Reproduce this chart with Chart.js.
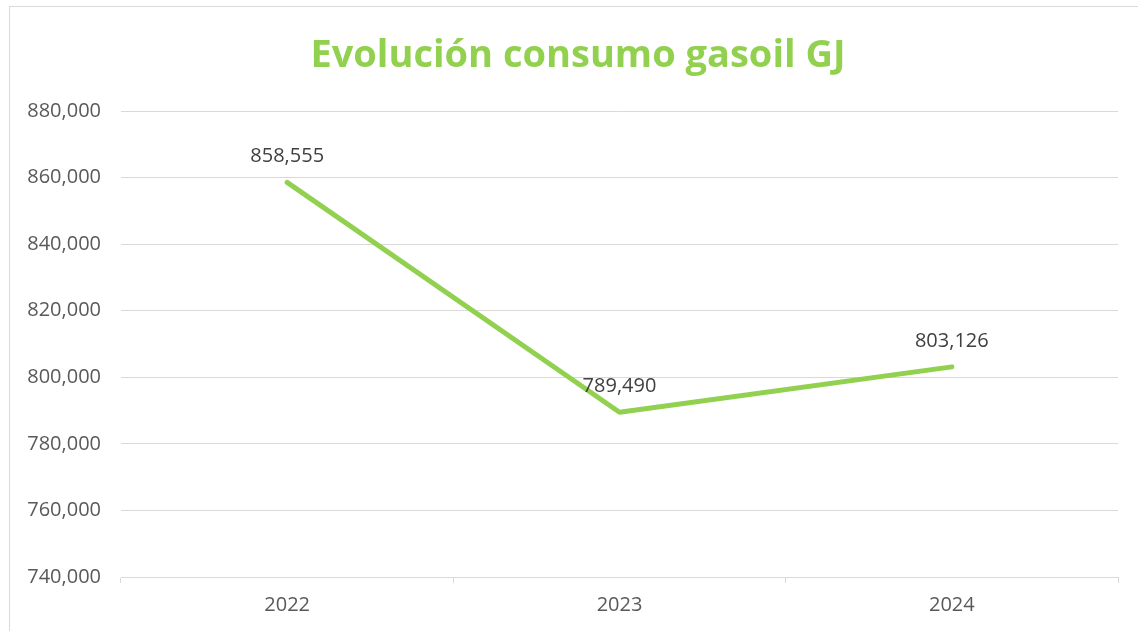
<!DOCTYPE html>
<html>
<head>
<meta charset="utf-8">
<script src="https://cdn.jsdelivr.net/npm/chart.js@4.4.1/dist/chart.umd.min.js"></script>
<style>
  html, body { margin: 0; padding: 0; background: #fff; overflow: hidden; }
  #wrap { position: relative; width: 1138px; height: 631px; }
  #frame { position: absolute; left: 9px; top: 6px; width: 1300px; height: 800px; border: 1px solid #d9d9d9; }
  #chart { position: absolute; left: 0; top: 0; }
</style>
</head>
<body>
<div id="wrap">
  <div id="frame"></div>
  <canvas id="chart" width="1138" height="631"></canvas>
</div>
<script>
// chart values
const years = ["2022", "2023", "2024"];
const consumo = [858555, 789490, 803126];
const yMin = 740000;
const yMax = 880000;
const yStep = 20000;
const titleText = "Evolución consumo gasoil GJ";

const green = "#92D050";
const fontName = "'Open Sans', 'Liberation Sans', sans-serif";

function fmt(v) {
  return v.toLocaleString("en-US");
}

// title + the value above each point
const valueLabels = {
  id: "valueLabels",
  afterDatasetsDraw(chart) {
    const ctx = chart.ctx;
    const meta = chart.getDatasetMeta(0);
    ctx.save();
    ctx.font = "bold 38px " + fontName;
    ctx.fillStyle = green;
    ctx.textAlign = "center";
    ctx.textBaseline = "middle";
    ctx.fillText(titleText, 578, 56);

    ctx.font = "20px " + fontName;
    ctx.fillStyle = "#404040";
    ctx.textBaseline = "bottom";
    meta.data.forEach(function (pt, i) {
      ctx.fillText(fmt(consumo[i]), pt.x, pt.y - 16);
    });
    ctx.restore();
  }
};

new Chart(document.getElementById("chart"), {
  type: "line",
  data: {
    labels: years,
    datasets: [{
      data: consumo,
      borderColor: green,
      borderWidth: 5,
      borderCapStyle: "round",
      borderJoinStyle: "round",
      pointRadius: 0,
      tension: 0,
      fill: false
    }]
  },
  options: {
    responsive: false,
    animation: false,
    layout: { padding: { left: 0, right: 20, top: 111, bottom: 4 } },
    plugins: {
      legend: { display: false },
      tooltip: { enabled: false },
      title: { display: false }
    },
    scales: {
      x: {
        offset: true,
        grid: {
          offset: true,
          drawOnChartArea: false,
          drawTicks: true,
          tickLength: 6,
          color: "#d9d9d9"
        },
        border: { display: true, color: "#d9d9d9", width: 1 },
        ticks: {
          color: "#595959",
          font: { family: fontName, size: 20 },
          padding: 10
        }
      },
      y: {
        min: yMin,
        max: yMax,
        afterFit(scale) { scale.width = 121; },
        grid: { color: "#d9d9d9", drawTicks: false },
        border: { display: false },
        ticks: {
          stepSize: yStep,
          color: "#595959",
          font: { family: fontName, size: 20 },
          padding: 20,
          callback: function (v) { return fmt(v); }
        }
      }
    }
  },
  plugins: [valueLabels]
});
</script>
</body>
</html>
